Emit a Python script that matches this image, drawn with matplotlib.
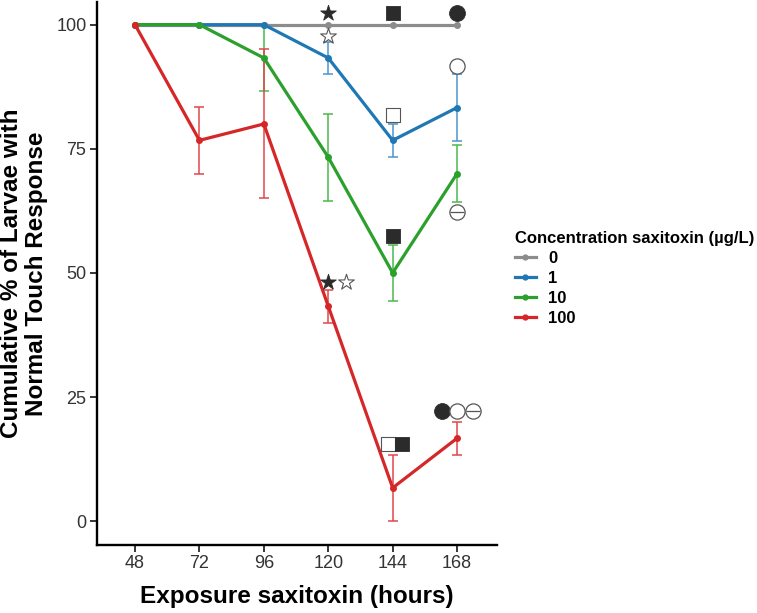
import numpy as np
import matplotlib
matplotlib.use("Agg")
import matplotlib.pyplot as plt
from matplotlib.lines import Line2D

plt.rcParams['font.family'] = ['Liberation Sans', 'DejaVu Sans']

hours = [48, 72, 96, 120, 144, 168]

# cumulative % with normal touch response, and error (+/-)
conc = ['0', '1', '10', '100']
colors = ['#8c8c8c', '#1f78b4', '#2ca02c', '#d62728']
err_colors = ['#8c8c8c', '#4a93cf', '#4cb84c', '#e0474a']
mean_0 = [100, 100, 100, 100, 100, 100]
err_0 = [0, 0, 0, 0, 0, 0]
mean_1 = [100, 100, 100, 93.3, 76.7, 83.3]
err_1 = [0, 0, 0, 3.3, 3.3, 6.7]
mean_10 = [100, 100, 93.3, 73.3, 50, 70]
err_10 = [0, 0, 6.7, 8.8, 5.7, 5.8]
mean_100 = [100, 76.7, 80, 43.3, 6.7, 16.7]
err_100 = [0, 6.7, 15, 3.3, 6.7, 3.3]

means = [mean_0, mean_1, mean_10, mean_100]
errs = [err_0, err_1, err_10, err_100]

# significance symbols: (x, y, symbol)
sym_x = [120, 120, 144, 168, 144, 168, 144, 168, 120, 126.6, 142.3, 147.5, 162.4, 168, 174]
sym_y = [102.3, 97.8, 102.3, 102.3, 81.9, 91.7, 57.5, 62.3, 48.2, 48.2, 15.5, 15.5, 22.2, 22.2, 22.2]
sym_kind = ['star_f', 'star_o', 'sq_f', 'circ_f', 'sq_o', 'circ_o', 'sq_f', 'circ_line',
            'star_f', 'star_o', 'sq_o', 'sq_f', 'circ_f', 'circ_o', 'circ_line']

fig = plt.figure(figsize=(7.57, 6.13), dpi=100)
ax = fig.add_axes([0.128, 0.111, 0.529, 0.886])

for m, e, c, ec in zip(means, errs, colors, err_colors):
    m = np.array(m)
    e = np.array(e)
    has = e > 0
    ax.errorbar(np.array(hours)[has], m[has], yerr=e[has], fmt='none', ecolor=ec,
                elinewidth=1.1, capsize=3.5, capthick=1.1, zorder=2)
    ax.plot(hours, m, color=c, lw=2.3, marker='o', ms=4, zorder=3)

dark = '#2b2b2b'
edge = '#555555'
for x, y, k in zip(sym_x, sym_y, sym_kind):
    if k == 'star_f':
        ax.scatter(x, y, marker='*', s=140, color=dark, edgecolor=dark, lw=0.6, zorder=5)
    elif k == 'star_o':
        ax.scatter(x, y, marker='*', s=140, facecolor='white', edgecolor=edge, lw=0.8, zorder=5)
    elif k == 'sq_f':
        ax.scatter(x, y, marker='s', s=95, color=dark, edgecolor=dark, lw=0.6, zorder=5)
    elif k == 'sq_o':
        ax.scatter(x, y, marker='s', s=95, facecolor='white', edgecolor=edge, lw=0.8, zorder=5)
    elif k == 'circ_f':
        ax.scatter(x, y, marker='o', s=130, color=dark, edgecolor=dark, lw=0.6, zorder=5)
    elif k == 'circ_o':
        ax.scatter(x, y, marker='o', s=120, facecolor='white', edgecolor=edge, lw=0.9, zorder=5)
    elif k == 'circ_line':
        ax.scatter(x, y, marker='o', s=120, facecolor='white', edgecolor=edge, lw=0.9, zorder=5)
        ax.scatter(x, y, marker='_', s=100, color=edge, lw=0.9, zorder=6)

ax.set_xlim(33.8, 183)
ax.set_ylim(-4.8, 104.6)
ax.set_xticks(hours)
ax.set_yticks([0, 25, 50, 75, 100])
for s in ['top', 'right']:
    ax.spines[s].set_visible(False)
for s in ['left', 'bottom']:
    ax.spines[s].set_linewidth(1.7)
    ax.spines[s].set_color('black')
ax.tick_params(width=1.1, length=5, labelsize=13, labelcolor='#333333', color='black', pad=2.5)

ax.set_xlabel('Exposure saxitoxin (hours)', fontsize=17.5, fontweight='bold', labelpad=9)
ax.set_ylabel('Cumulative % of Larvae with\nNormal Touch Response', fontsize=17.5,
              fontweight='bold', labelpad=6, linespacing=1.12)

handles = [Line2D([0], [0], color=c, lw=2.3, marker='o', ms=3.5) for c in colors]
leg = fig.legend(handles, conc, title='Concentration saxitoxin (µg/L)',
                 loc='upper left', bbox_to_anchor=(0.66, 0.648), frameon=False,
                 handlelength=1.3, handletextpad=0.7, labelspacing=0.3,
                 prop={'weight': 'bold', 'size': 12},
                 title_fontproperties={'weight': 'bold', 'size': 12})
leg._legend_box.align = 'left'

fig.savefig('out.png', dpi=100)
